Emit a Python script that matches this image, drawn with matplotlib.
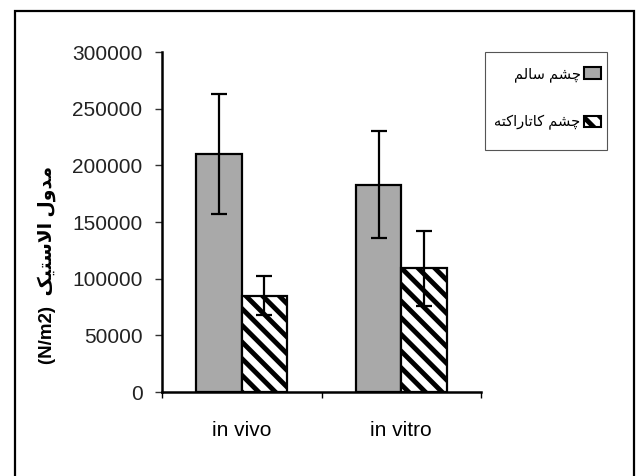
import numpy as np
import matplotlib.pyplot as plt
from matplotlib.patches import Patch, Rectangle

groups = ["in vivo", "in vitro"]
healthy = [210000, 183000]
healthy_err = [53000, 47000]
cataract = [85000, 109000]
cataract_err = [17000, 33000]
yticks = [0, 50000, 100000, 150000, 200000, 250000, 300000]

# persian text written with presentation forms, reversed for left-to-right drawing
lbl_healthy = "\uFB7C\uFEB8\uFEE2 \uFEB3\uFE8E\uFEDF\uFEE2"[::-1]
lbl_cataract = "\uFB7C\uFEB8\uFEE2 \uFB90\uFE8E\uFE97\uFE8E\uFEAD\uFE8D\uFB90\uFE98\uFEEA"[::-1]
lbl_y = "(N/m2)  " + "\uFEE3\uFEAA\uFEED\uFEDD \uFE8D\uFEFB\uFEB3\uFE98\uFBFF\uFB8F"[::-1]

plt.rcParams['font.family'] = ['Liberation Sans', 'DejaVu Sans']
plt.rcParams['hatch.linewidth'] = 3.5

fig = plt.figure(figsize=(6.38, 4.76), dpi=100)
ax = fig.add_axes([162 / 638, 1 - 392 / 476, (481 - 162) / 638, (392 - 52) / 476])

x = np.arange(len(groups))
w = 0.285
ax.bar(x - w / 2, healthy, w, color="#a9a9a9", edgecolor="black", linewidth=1.6)
ax.bar(x + w / 2, cataract, w, color="white", edgecolor="black", linewidth=1.6, hatch="\\\\")
ax.errorbar(x - w / 2, healthy, yerr=healthy_err, fmt="none", ecolor="black",
            elinewidth=1.6, capsize=5.5, capthick=1.6)
ax.errorbar(x + w / 2, cataract, yerr=cataract_err, fmt="none", ecolor="black",
            elinewidth=1.6, capsize=5.5, capthick=1.6)

ax.set_xlim(-0.5, 1.5)
ax.set_ylim(0, 300000)
ax.set_yticks(yticks)
ax.set_yticklabels([str(v) for v in yticks], fontsize=15)
ax.set_xticks(x)
ax.set_xticklabels(groups, fontsize=15)
ax.set_xticks([-0.5, 0.5, 1.5], minor=True)
ax.tick_params(axis="x", which="major", length=0, pad=21)
ax.tick_params(axis="x", which="minor", length=4, width=1, direction="out")
ax.tick_params(axis="y", length=5, width=1, pad=9, colors="#333333", labelcolor="#222222")

for s in ["top", "right"]:
    ax.spines[s].set_visible(False)
ax.spines["left"].set_linewidth(1.8)
ax.spines["bottom"].set_linewidth(1.8)

fig.text(47 / 638, 1 - 265 / 476, lbl_y, rotation=90, ha="center", va="center",
         fontsize=13.5, fontweight="bold")

handles = [Patch(facecolor="#a9a9a9", edgecolor="black", linewidth=1.5),
           Patch(facecolor="white", edgecolor="black", linewidth=1.5, hatch="\\\\")]
leg = fig.legend(handles, [lbl_healthy, lbl_cataract], loc="upper right",
                 bbox_to_anchor=(601 / 638, 1 - 67 / 476), borderaxespad=0,
                 markerfirst=False, fontsize=10.5, frameon=False,
                 handlelength=1.15, handleheight=0.85, labelspacing=2.3,
                 borderpad=0, handletextpad=0.25)

# legend box drawn separately so its size can follow the original
fig.add_artist(Rectangle((485 / 638, 1 - 150 / 476), (607 - 485) / 638, 98 / 476,
                         transform=fig.transFigure, fill=False, edgecolor="#555555",
                         linewidth=0.8))

# outer frame around the whole figure
fig.add_artist(Rectangle((15 / 638, -0.05), (634 - 15) / 638, 1 - 11 / 476 + 0.05,
                         transform=fig.transFigure, fill=False, edgecolor="black",
                         linewidth=1.6, clip_on=False))

fig.savefig("out.png", dpi=100)
